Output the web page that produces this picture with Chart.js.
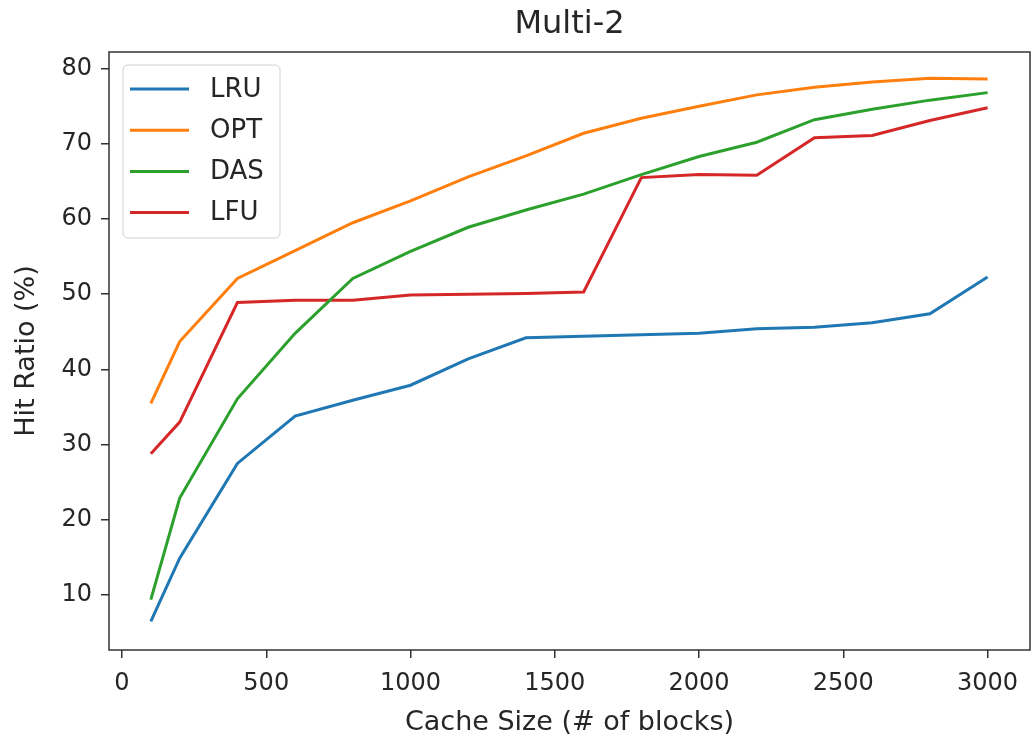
<!DOCTYPE html>
<html lang="en">
<head>
  <meta charset="UTF-8">
  <title>Multi-2</title>
  <style>
    body { margin: 0; background: #fff; }
    .chart-box { width: 1033px; height: 742px; }
  </style>
</head>
<body>
  <div class="chart-box">
    <canvas id="chart" width="1033" height="742"></canvas>
  </div>
  <script src="https://cdn.jsdelivr.net/npm/chart.js"></script>
  <script>
    // cache sizes (# of blocks)
    const cacheSizes = [100, 200, 400, 600, 800, 1000, 1200, 1400, 1600, 1800, 2000, 2200, 2400, 2600, 2800, 3000];
    // hit ratio (%) per policy
    const lru = [6.5, 14.9, 27.5, 33.8, 35.9, 37.9, 41.4, 44.2, 44.4, 44.6, 44.8, 45.4, 45.6, 46.2, 47.4, 52.3];
    const opt = [35.5, 43.7, 52.1, 55.8, 59.5, 62.4, 65.6, 68.4, 71.4, 73.4, 75.0, 76.5, 77.5, 78.2, 78.7, 78.6];
    const das = [9.4, 22.9, 36.1, 44.8, 52.1, 55.7, 58.9, 61.2, 63.3, 65.9, 68.3, 70.2, 73.2, 74.6, 75.8, 76.8];
    const lfu = [28.8, 33.0, 48.9, 49.2, 49.2, 49.9, 50.0, 50.1, 50.3, 65.5, 65.9, 65.8, 70.8, 71.1, 73.1, 74.8];
    const xTicks = [0, 500, 1000, 1500, 2000, 2500, 3000];
    const yTicks = [10, 20, 30, 40, 50, 60, 70, 80];

    const FONT = "'DejaVu Sans', sans-serif";
    const ink = '#262626';

    function pts(ys) {
      return cacheSizes.map((x, i) => ({ x: x, y: ys[i] }));
    }
    function serie(label, ys, color) {
      return { label: label, data: pts(ys), borderColor: color, backgroundColor: color,
               borderWidth: 3, pointRadius: 0, tension: 0, fill: false };
    }

    // marco completo del área de dibujo + leyenda con recuadro
    const frameAndLegend = {
      id: 'frameAndLegend',
      afterDatasetsDraw(chart) {
        const ctx = chart.ctx;
        const a = chart.chartArea;
        ctx.save();
        ctx.strokeStyle = '#333';
        ctx.lineWidth = 1.5;
        ctx.strokeRect(a.left, a.top, a.right - a.left, a.bottom - a.top);

        const bx = a.left + 14, by = a.top + 13, bw = 157, bh = 173;
        ctx.beginPath();
        ctx.roundRect(bx, by, bw, bh, 5);
        ctx.fillStyle = 'rgba(255,255,255,0.85)';
        ctx.fill();
        ctx.strokeStyle = '#d0d0d0';
        ctx.lineWidth = 1;
        ctx.stroke();

        ctx.font = '26px ' + FONT;
        ctx.textBaseline = 'middle';
        ctx.textAlign = 'left';
        chart.data.datasets.forEach((ds, i) => {
          const y = by + 24 + i * 41.2;
          ctx.strokeStyle = ds.borderColor;
          ctx.lineWidth = 3;
          ctx.beginPath();
          ctx.moveTo(bx + 7, y);
          ctx.lineTo(bx + 66, y);
          ctx.stroke();
          ctx.fillStyle = ink;
          ctx.fillText(ds.label, bx + 87, y + 1);
        });
        ctx.restore();
      }
    };

    new Chart(document.getElementById('chart'), {
      type: 'line',
      data: {
        datasets: [
          serie('LRU', lru, '#1f77b4'),
          serie('OPT', opt, '#ff7f0e'),
          serie('DAS', das, '#2ca02c'),
          serie('LFU', lfu, '#d62728')
        ]
      },
      options: {
        responsive: false,
        animation: false,
        layout: { padding: { left: 0, right: 3, top: 0, bottom: 0 } },
        plugins: {
          legend: { display: false },
          tooltip: { enabled: false },
          title: {
            display: true,
            fullSize: false,
            text: 'Multi-2',
            color: ink,
            font: { family: FONT, size: 32, weight: 'normal' },
            padding: { top: 5, bottom: 8.6 }
          }
        },
        scales: {
          x: {
            type: 'linear',
            min: -45,
            max: 3147,
            afterBuildTicks: s => { s.ticks = xTicks.map(v => ({ value: v })); },
            afterFit: s => { s.height = 92; },
            grid: { drawOnChartArea: false, drawTicks: true, tickLength: 8, color: '#333', lineWidth: 1.5 },
            border: { display: false },
            ticks: { color: ink, font: { family: FONT, size: 24 }, padding: 11, maxRotation: 0,
                     callback: v => String(v) },
            title: { display: true, text: 'Cache Size (# of blocks)', color: ink,
                     font: { family: FONT, size: 27 }, padding: { top: 0, bottom: 2.8 } }
          },
          y: {
            type: 'linear',
            min: 2.7,
            max: 82.2,
            afterBuildTicks: s => { s.ticks = yTicks.map(v => ({ value: v })); },
            afterFit: s => { s.width = 109; },
            grid: { drawOnChartArea: false, drawTicks: true, tickLength: 8, color: '#333', lineWidth: 1.5 },
            border: { display: false },
            ticks: { color: ink, font: { family: FONT, size: 24 }, padding: 9,
                     callback: v => String(v) },
            title: { display: true, text: 'Hit Ratio (%)', color: ink,
                     font: { family: FONT, size: 27 }, padding: { top: 11, bottom: 0 } }
          }
        }
      },
      plugins: [frameAndLegend]
    });
  </script>
</body>
</html>
